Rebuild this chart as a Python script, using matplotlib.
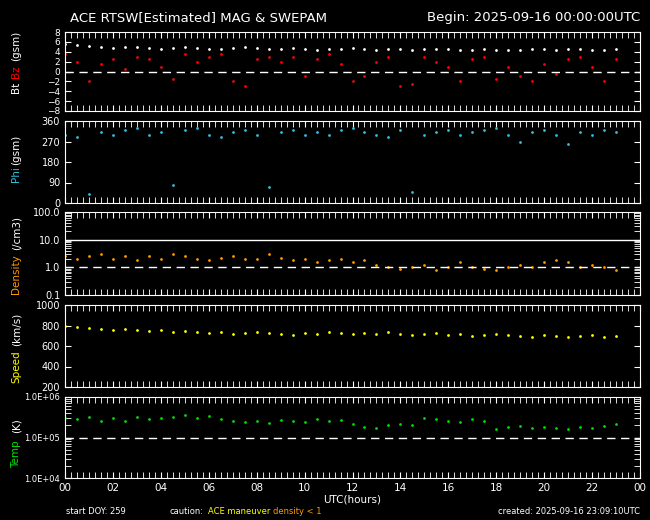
import numpy as np
import matplotlib
matplotlib.use("Agg")
import matplotlib.pyplot as plt
from matplotlib.ticker import FixedLocator, LogLocator, NullFormatter

hours = [i * 0.5 for i in range(47)]
bt = [5.6,5.4,5.2,5.0,4.8,4.9,5.0,4.7,4.6,4.8,4.9,4.7,4.5,4.6,4.8,5.0,4.7,4.6,4.5,4.7,4.6,4.4,4.5,4.6,
      4.7,4.5,4.4,4.6,4.5,4.4,4.5,4.6,4.5,4.3,4.4,4.5,4.4,4.3,4.4,4.5,4.6,4.4,4.5,4.6,4.4,4.3,4.5]
bz = [3.5,2.0,-2.0,1.5,2.5,0.5,3.0,2.5,1.0,-1.5,3.5,2.0,3.0,3.5,-2.0,-3.0,2.5,3.0,2.0,3.0,-1.0,2.5,3.5,1.5,
      -2.0,-1.0,2.0,3.0,-3.0,-2.5,3.0,2.0,1.0,-2.0,2.5,3.0,-1.5,1.0,-1.0,-2.0,1.5,-0.5,2.5,3.0,1.0,-2.0,2.5]
phi = [300,290,40,310,300,320,330,300,310,80,320,330,300,290,310,320,300,70,310,320,300,310,300,320,
       330,310,300,290,320,50,300,310,320,300,310,320,330,300,270,310,320,300,260,310,300,320,310]
density = [2.5,2.0,2.5,3.0,2.0,2.5,1.8,2.5,2.0,3.0,2.5,2.0,1.8,2.2,2.5,2.0,2.0,3.0,2.2,1.8,2.0,1.5,1.8,2.0,
           1.5,1.8,1.2,1.0,0.9,1.0,1.2,0.8,1.0,1.5,1.0,0.9,0.8,1.0,1.2,1.0,1.5,1.8,1.5,1.0,1.2,1.0,0.8]
speed = [800,790,780,770,760,770,760,750,760,740,750,740,730,740,720,730,740,730,720,710,730,720,740,730,
         720,730,720,740,720,710,720,730,710,720,700,710,720,710,700,690,710,700,690,700,710,690,700]
temp = [3.0e5,2.8e5,3.2e5,2.6e5,3.0e5,2.5e5,3.3e5,2.8e5,3.0e5,3.2e5,3.5e5,3.0e5,3.4e5,2.8e5,2.6e5,2.4e5,2.5e5,2.3e5,
        2.7e5,2.6e5,2.4e5,2.8e5,2.5e5,2.7e5,2.2e5,1.8e5,1.7e5,2.0e5,2.1e5,2.0e5,3.0e5,2.8e5,2.6e5,2.4e5,2.8e5,2.5e5,
        1.6e5,1.8e5,1.9e5,1.7e5,1.8e5,1.7e5,1.6e5,1.8e5,1.7e5,1.9e5,2.2e5]
x_labels = ["00", "02", "04", "06", "08", "10", "12", "14", "16", "18", "20", "22", "00"]

fig = plt.figure(figsize=(6.5, 5.2), dpi=100, facecolor="black")
W, H = 650, 520
boxes = [(32, 111), (121, 203), (212, 295), (305, 387), (397, 478)]
axes = []
for (t, b) in boxes:
    ax = fig.add_axes([65 / W, 1 - b / H, 575 / W, (b - t) / H], facecolor="black")
    for s in ax.spines.values():
        s.set_color("white")
    ax.tick_params(colors="white", direction="in", which="both", labelsize=7,
                   right=True, top=True, length=4)
    ax.set_xlim(0, 24)
    ax.set_xticks(range(0, 25, 2))
    ax.xaxis.set_minor_locator(FixedLocator(np.arange(0, 24.01, 0.25)))
    ax.set_xticklabels([])
    axes.append(ax)

ms = 2
lx = -0.085
a = axes[0]
a.plot(hours, bt, "o", color="white", ms=ms, mec="none")
a.plot(hours, bz, "o", color="red", ms=ms, mec="none")
a.axhline(0, color="white", ls=(0, (6, 4)), lw=1)
a.set_ylim(-8, 8); a.set_yticks(range(-8, 9, 2))
a.tick_params(axis="y", labelsize=6.5)
a.text(lx, 0.3, "Bt", color="white", rotation=90, transform=a.transAxes, ha="center", va="center", fontsize=7.5)
a.text(lx, 0.5, "Bz", color="red", rotation=90, transform=a.transAxes, ha="center", va="center", fontsize=7.5)
a.text(lx, 0.82, "(gsm)", color="white", rotation=90, transform=a.transAxes, ha="center", va="center", fontsize=7.5)

a = axes[1]
a.plot(hours, phi, "o", color="#30c0e0", ms=ms, mec="none")
a.set_ylim(0, 360); a.set_yticks([0, 90, 180, 270, 360])
a.text(lx, 0.35, "Phi", color="#30c0e0", rotation=90, transform=a.transAxes, ha="center", va="center", fontsize=7.5)
a.text(lx, 0.65, "(gsm)", color="white", rotation=90, transform=a.transAxes, ha="center", va="center", fontsize=7.5)

a = axes[2]
a.set_yscale("log")
a.plot(hours, density, "o", color="#ff9900", ms=ms, mec="none")
a.axhline(1, color="white", ls=(0, (6, 4)), lw=1)
a.axhline(10, color="white", lw=1)
a.set_ylim(0.1, 100)
a.set_yticks([0.1, 1, 10, 100]); a.set_yticklabels(["0.1", "1.0", "10.0", "100.0"])
a.yaxis.set_minor_locator(LogLocator(subs=np.arange(2, 10)))
a.yaxis.set_minor_formatter(NullFormatter())
a.text(lx, 0.25, "Density", color="#ff9900", rotation=90, transform=a.transAxes, ha="center", va="center", fontsize=7.5)
a.text(lx, 0.75, "(/cm3)", color="white", rotation=90, transform=a.transAxes, ha="center", va="center", fontsize=7.5)

a = axes[3]
a.plot(hours, speed, "o", color="#ffff00", ms=ms, mec="none")
a.set_ylim(200, 1000); a.set_yticks(range(200, 1001, 200))
a.text(lx, 0.25, "Speed", color="#ffff00", rotation=90, transform=a.transAxes, ha="center", va="center", fontsize=7.5)
a.text(lx, 0.7, "(km/s)", color="white", rotation=90, transform=a.transAxes, ha="center", va="center", fontsize=7.5)

a = axes[4]
a.set_yscale("log")
a.plot(hours, temp, "o", color="#00dd00", ms=ms, mec="none")
a.axhline(1e5, color="white", ls=(0, (6, 4)), lw=1)
a.set_ylim(1e4, 1e6)
a.set_yticks([1e4, 1e5, 1e6]); a.set_yticklabels(["1.0E+04", "1.0E+05", "1.0E+06"], fontsize=6)
a.yaxis.set_minor_locator(LogLocator(subs=np.arange(2, 10)))
a.yaxis.set_minor_formatter(NullFormatter())
a.text(lx, 0.3, "Temp", color="#00dd00", rotation=90, transform=a.transAxes, ha="center", va="center", fontsize=7.5)
a.text(lx, 0.65, "(K)", color="white", rotation=90, transform=a.transAxes, ha="center", va="center", fontsize=7.5)
a.set_xticklabels(x_labels, fontsize=7.5)
a.set_xlabel("UTC(hours)", color="white", fontsize=7.5, labelpad=1)

fig.text(70 / W, 1 - 18 / H, "ACE RTSW[Estimated] MAG & SWEPAM", color="white", fontsize=9.5, va="center")
fig.text(640 / W, 1 - 18 / H, "Begin: 2025-09-16 00:00:00UTC", color="white", fontsize=9.5, va="center", ha="right")
fig.text(66 / W, 1 - 512 / H, "start DOY: 259", color="white", fontsize=6, va="center")
fig.text(170 / W, 1 - 512 / H, "caution:", color="white", fontsize=6, va="center")
fig.text(208 / W, 1 - 512 / H, "ACE maneuver", color="#ffff00", fontsize=6, va="center")
fig.text(273 / W, 1 - 512 / H, "density < 1", color="#ff9900", fontsize=6, va="center")
fig.text(640 / W, 1 - 512 / H, "created: 2025-09-16 23:09:10UTC", color="white", fontsize=6, va="center", ha="right")

fig.savefig("out.png", dpi=100, facecolor="black")
